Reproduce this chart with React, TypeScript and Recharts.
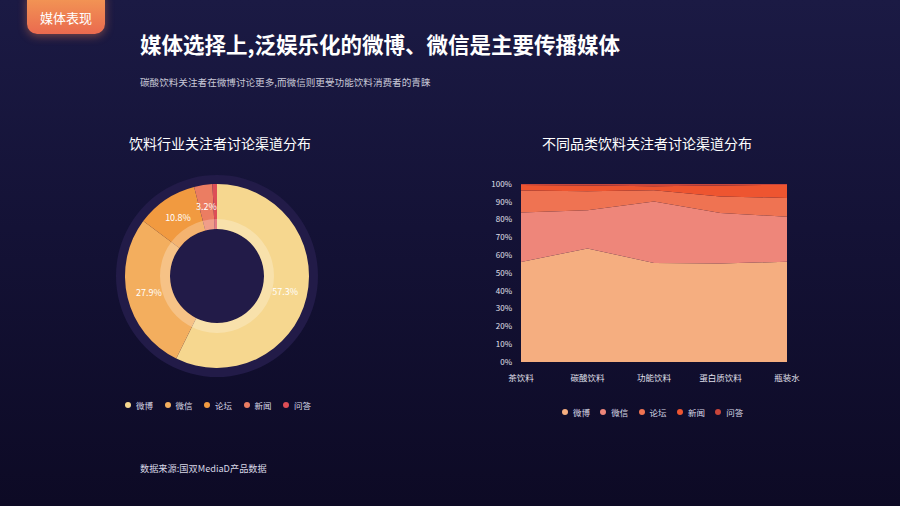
import React from "react";
import { PieChart, Pie, Cell, AreaChart, Area, XAxis, YAxis } from "recharts";

const channels = ["微博", "微信", "论坛", "新闻", "问答"];
const donutValues = [57.3, 27.9, 10.8, 3.2, 0.8];
const donutColors = ["#F6D78F", "#F3AE5E", "#F19A40", "#EB7D62", "#DD4E56"];

const categories = ["茶饮料", "碳酸饮料", "功能饮料", "蛋白质饮料", "瓶装水"];
const weibo = [56.2, 63.8, 55.6, 55.4, 56.3];
const weixin = [27.8, 21.4, 34.5, 28.3, 25.3];
const luntan = [12.4, 10.7, 6.4, 9.3, 10.6];
const xinwen = [3.0, 3.3, 2.2, 6.2, 7.3];
const wenda = [0.6, 0.8, 1.3, 0.8, 0.5];
const areaColors = ["#F5AE80", "#EE867A", "#EF7352", "#EE5530", "#C8453A"];
const yTicks = [0, 10, 20, 30, 40, 50, 60, 70, 80, 90, 100];

const donutData = channels.map((name, i) => ({ name, value: donutValues[i] }));
const seriesKeys = ["weibo", "weixin", "luntan", "xinwen", "wenda"];
const areaData = categories.map((cat, i) => ({
  cat,
  weibo: weibo[i],
  weixin: weixin[i],
  luntan: luntan[i],
  xinwen: xinwen[i],
  wenda: wenda[i],
}));

const FONT = '"Noto Sans CJK SC", "Noto Sans", sans-serif';
const RAD = Math.PI / 180;

const renderDonutLabel = (props: any) => {
  const { cx, cy, midAngle, value } = props;
  if (value < 2) return null;
  const r = 70;
  const x = cx + r * Math.cos(-midAngle * RAD);
  const y = cy + r * Math.sin(-midAngle * RAD);
  return (
    <text
      x={x}
      y={y}
      fill="#FFFFFF"
      fontSize={9}
      textAnchor="middle"
      dominantBaseline="central"
      fontFamily={FONT}
    >
      {`${value}%`}
    </text>
  );
};

const LegendRow = ({ colors, left, top, gap }: { colors: string[]; left: number; top: number; gap: number }) => (
  <div style={{ position: "absolute", left, top, display: "flex", fontSize: 8.5, color: "#D8D8E6" }}>
    {channels.map((c, i) => (
      <div key={c} style={{ display: "flex", alignItems: "center", width: gap }}>
        <span
          style={{
            width: 6,
            height: 6,
            borderRadius: 3,
            background: colors[i],
            marginRight: 5,
            display: "inline-block",
          }}
        />
        <span>{c}</span>
      </div>
    ))}
  </div>
);

const App = () => {
  return (
    <div
      style={{
        position: "fixed",
        left: 0,
        top: 0,
        width: 900,
        height: 506,
        overflow: "hidden",
        fontFamily: FONT,
        background: "linear-gradient(180deg, #1B1A44 0%, #141236 45%, #0D0A25 100%)",
      }}
    >
      {/* tag */}
      <div
        style={{
          position: "absolute",
          left: 27,
          top: -6,
          width: 78,
          height: 40,
          borderRadius: "0 0 10px 10px",
          background: "linear-gradient(180deg, #F39A55 0%, #EA6A4F 100%)",
          boxShadow: "0 2px 10px rgba(240,130,80,0.45)",
          color: "#FFFFFF",
          fontSize: 13,
          display: "flex",
          alignItems: "flex-end",
          justifyContent: "center",
          boxSizing: "border-box",
        }}
      >
        <span style={{ marginBottom: 7 }}>媒体表现</span>
      </div>

      <div style={{ position: "absolute", left: 140, top: 28, fontSize: 21.5, fontWeight: 700, color: "#FFFFFF", whiteSpace: "nowrap" }}>
        媒体选择上,泛娱乐化的微博、微信是主要传播媒体
      </div>
      <div style={{ position: "absolute", left: 140, top: 75, fontSize: 9.6, color: "#C9C9D8", whiteSpace: "nowrap" }}>
        碳酸饮料关注者在微博讨论更多,而微信则更受功能饮料消费者的青睐
      </div>

      <div style={{ position: "absolute", left: 129, top: 133, fontSize: 14, color: "#FFFFFF", whiteSpace: "nowrap" }}>
        饮料行业关注者讨论渠道分布
      </div>
      <div style={{ position: "absolute", left: 542, top: 133, fontSize: 14, color: "#FFFFFF", whiteSpace: "nowrap" }}>
        不同品类饮料关注者讨论渠道分布
      </div>

      <div style={{ position: "absolute", left: 97, top: 156 }}>
        <PieChart width={240} height={240} margin={{ top: 0, right: 0, bottom: 0, left: 0 }}>
          <Pie
            data={[{ name: "bg", value: 1 }]}
            dataKey="value"
            cx={120}
            cy={120}
            innerRadius={0}
            outerRadius={101}
            fill="#221B48"
            stroke="none"
            isAnimationActive={false}
          />
          <Pie
            data={donutData}
            dataKey="value"
            nameKey="name"
            cx={120}
            cy={120}
            startAngle={90}
            endAngle={-270}
            innerRadius={47}
            outerRadius={92}
            stroke="none"
            label={renderDonutLabel}
            labelLine={false}
            isAnimationActive={false}
          >
            {donutData.map((d, i) => (
              <Cell key={d.name} fill={donutColors[i]} />
            ))}
          </Pie>
          <Pie
            data={[{ name: "ring", value: 1 }]}
            dataKey="value"
            cx={120}
            cy={120}
            innerRadius={47}
            outerRadius={57}
            fill="#FFFFFF"
            fillOpacity={0.25}
            stroke="none"
            isAnimationActive={false}
          />
        </PieChart>
      </div>

      <LegendRow colors={donutColors} left={125} top={399} gap={39.5} />

      <div style={{ position: "absolute", left: 470, top: 170 }}>
        <AreaChart width={330} height={222} data={areaData} margin={{ top: 14, right: 13, left: 0, bottom: 0 }}>
          <XAxis
            dataKey="cat"
            axisLine={false}
            tickLine={false}
            tickSize={0}
            tickMargin={13}
            height={30}
            interval={0}
            tick={{ fill: "#E0E0EC", fontSize: 8.5, fontFamily: FONT }}
          />
          <YAxis
            domain={[0, 100]}
            ticks={yTicks}
            tickFormatter={(v: number) => `${v}%`}
            axisLine={false}
            tickLine={false}
            tickSize={0}
            tickMargin={9}
            width={51}
            interval={0}
            tick={{ fill: "#E0E0EC", fontSize: 8, fontFamily: FONT }}
          />
          {seriesKeys.map((k, i) => (
            <Area
              key={k}
              type="linear"
              dataKey={k}
              stackId="s"
              fill={areaColors[i]}
              fillOpacity={1}
              stroke="none"
              isAnimationActive={false}
            />
          ))}
        </AreaChart>
      </div>

      <LegendRow colors={areaColors} left={562} top={406} gap={38.3} />

      <div style={{ position: "absolute", left: 140, top: 461, fontSize: 9.2, color: "#D8D8E6", whiteSpace: "nowrap" }}>
        数据来源:国双MediaD产品数据
      </div>
    </div>
  );
};

export default App;
